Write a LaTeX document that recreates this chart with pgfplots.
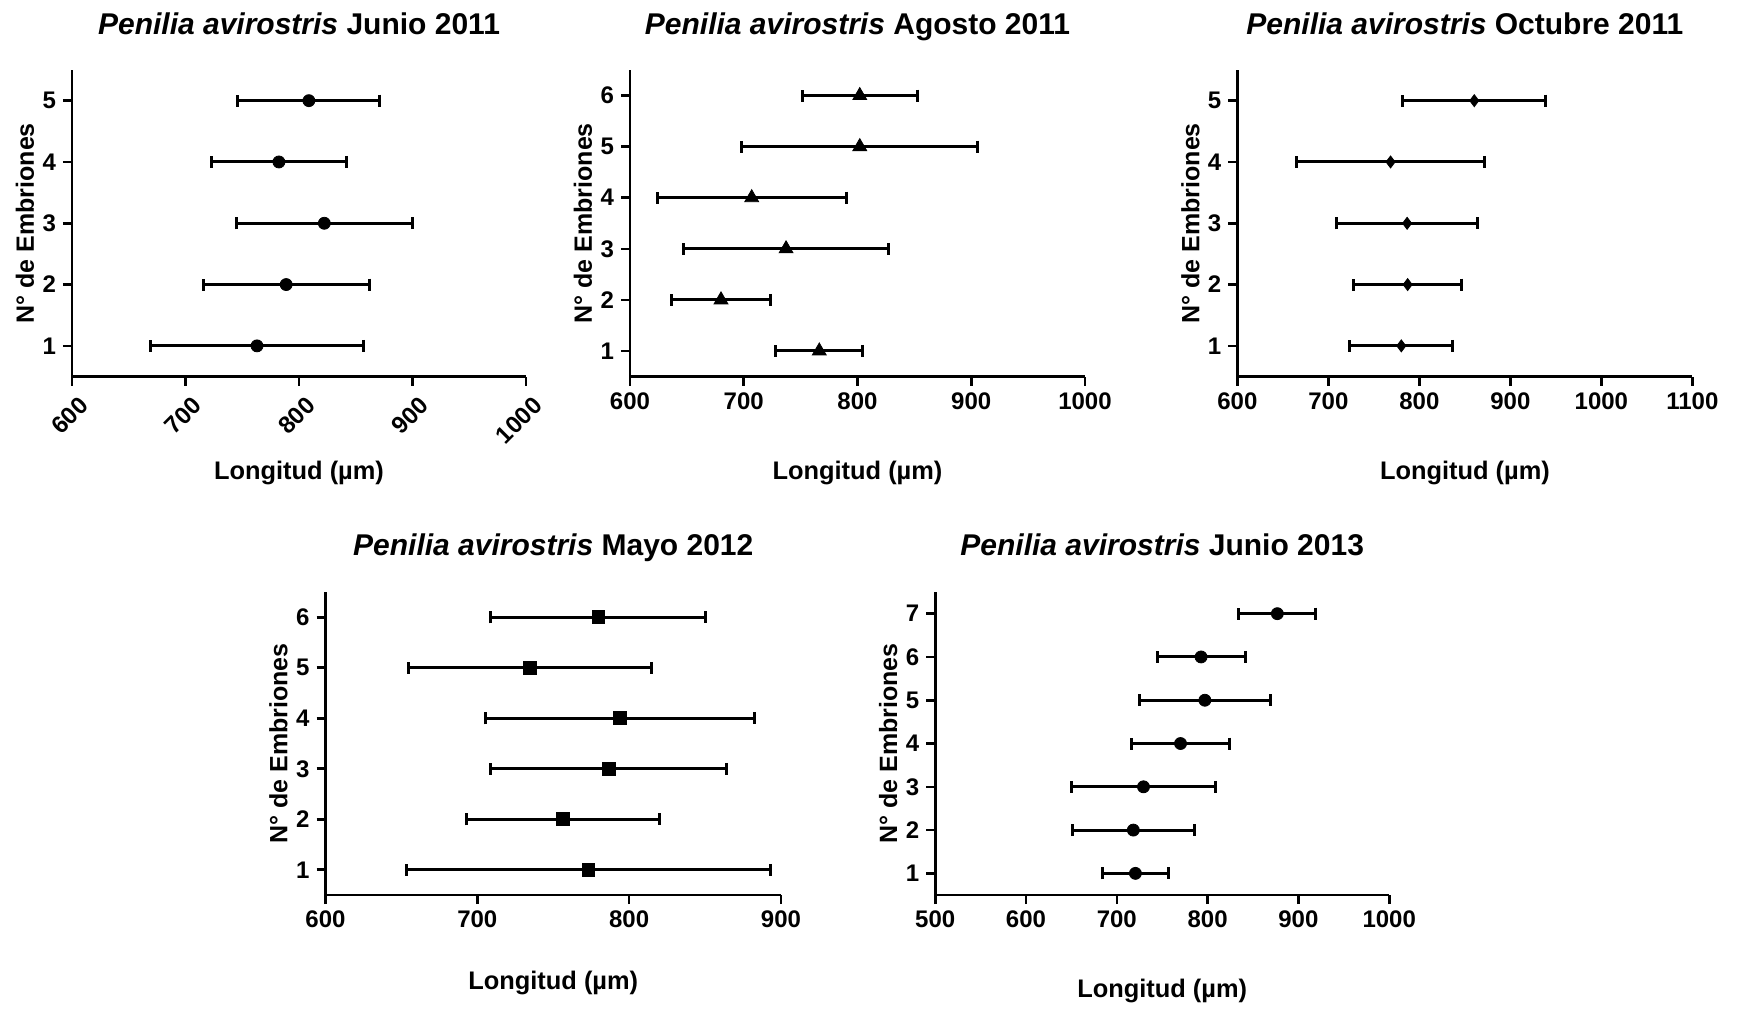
\documentclass[border=0pt]{standalone}
\usepackage{fontspec}
\setmainfont{Liberation Sans}
\usepackage{pgfplots}
\pgfplotsset{compat=1.18}
\usepackage{pgfplotstable}

% Nº de embriones (n), longitud media (m) y desviación (e)
\pgfplotstableread{
n m e
1 763.0 93.8
2 788.7 73.2
3 822.3 77.3
4 782.3 59.2
5 808.7 62.6
}\junioA
\pgfplotstableread{
n m e
1 766.4 38.2
2 680.0 43.9
3 737.2 90.2
4 707.0 83.0
5 802.0 103.7
6 802.0 50.5
}\agosto
\pgfplotstableread{
n m e
1 780.1 56.7
2 787.1 59.6
3 786.5 77.2
4 768.3 103.2
5 860.3 78.8
}\octubre
\pgfplotstableread{
n m e
1 773.2 119.7
2 756.5 63.4
3 786.4 77.6
4 794.0 88.5
5 734.7 79.9
6 779.7 70.9
}\mayo
\pgfplotstableread{
n m e
1 720.5 36.0
2 718.2 67.4
3 729.4 79.4
4 770.2 54.1
5 797.0 72.1
6 792.8 48.5
7 876.8 42.3
}\junioB

\pgfplotsset{
  embr/.style={
    scale only axis, clip=false,
    axis x line*=bottom, axis y line*=left,
    axis line style={line width=1.4pt},
    tick align=outside, major tick length=4.5pt,
    tick style={line width=1.3pt, black},
    /pgf/number format/assume math mode=true,
    /pgf/number format/1000 sep={},
    tick label style={font=\fontsize{12}{14}\selectfont\bfseries},
    title style={font=\fontsize{15}{18}\selectfont\bfseries,
      at={(axis description cs:0.5,1)}, anchor=base, yshift=12pt},
    xlabel style={font=\fontsize{12.7}{15}\selectfont\bfseries,
      at={(axis description cs:0.5,0)}, anchor=center, yshift=-48pt},
    ylabel style={font=\fontsize{12.5}{15}\selectfont\bfseries,
      at={(axis description cs:-0.1035,0.5)}, anchor=center},
    xlabel={Longitud (µm)}, ylabel={N° de Embriones},
    ymin=0.5,
  },
  serie/.style={black, only marks,
    mark options={fill=black, draw=black},
    error bars/.cd, x dir=both, x explicit,
    error bar style={line width=1.5pt},
    error mark options={rotate=90, line width=1.5pt, mark size=3pt}},
}

\begin{document}
\begin{tikzpicture}
\path[use as bounding box] (0,0) rectangle (868.5pt,-504pt);

% Junio 2011
\begin{axis}[embr, at={(36pt,-188.25pt)}, anchor=south west,
  width=227pt, height=153.25pt,
  xmin=600, xmax=1000, xtick={600,700,...,1000},
  ymax=5.5, ytick={1,...,5},
  xticklabel style={rotate=45, anchor=north east, yshift=-2pt, xshift=2pt},
  title={\textit{Penilia avirostris} Junio 2011}]
\addplot[mark=*, mark size=3pt, serie] table[x=m, y=n, x error=e]{\junioA};
\end{axis}

% Agosto 2011
\begin{axis}[embr, at={(315pt,-188.25pt)}, anchor=south west,
  width=227.5pt, height=153.25pt,
  xmin=600, xmax=1000, xtick={600,700,...,1000},
  ymax=6.5, ytick={1,...,6},
  title={\textit{Penilia avirostris} Agosto 2011}]
\addplot[mark=triangle*, mark size=4pt, serie] table[x=m, y=n, x error=e]{\agosto};
\end{axis}

% Octubre 2011
\begin{axis}[embr, at={(618.7pt,-188.25pt)}, anchor=south west,
  width=227.5pt, height=153.25pt,
  xmin=600, xmax=1100, xtick={600,700,...,1100},
  ymax=5.5, ytick={1,...,5},
  title={\textit{Penilia avirostris} Octubre 2011}]
\addplot[mark=diamond*, mark size=3pt, serie] table[x=m, y=n, x error=e]{\octubre};
\end{axis}

% Mayo 2012
\begin{axis}[embr, at={(162.75pt,-447.5pt)}, anchor=south west,
  width=227.75pt, height=151.5pt,
  xmin=600, xmax=900, xtick={600,700,800,900},
  ymax=6.5, ytick={1,...,6},
  title style={yshift=0.5pt},
  xlabel style={yshift=4pt},
  title={\textit{Penilia avirostris} Mayo 2012}]
\addplot[mark=square*, mark size=3.2pt, serie] table[x=m, y=n, x error=e]{\mayo};
\end{axis}

% Junio 2013
\begin{axis}[embr, at={(467.6pt,-447.5pt)}, anchor=south west,
  width=227pt, height=151.5pt,
  xmin=500, xmax=1000, xtick={500,600,...,1000},
  ymax=7.5, ytick={1,...,7},
  title style={yshift=0.5pt},
  title={\textit{Penilia avirostris} Junio 2013}]
\addplot[mark=*, mark size=3pt, serie] table[x=m, y=n, x error=e]{\junioB};
\end{axis}
\end{tikzpicture}
\end{document}
